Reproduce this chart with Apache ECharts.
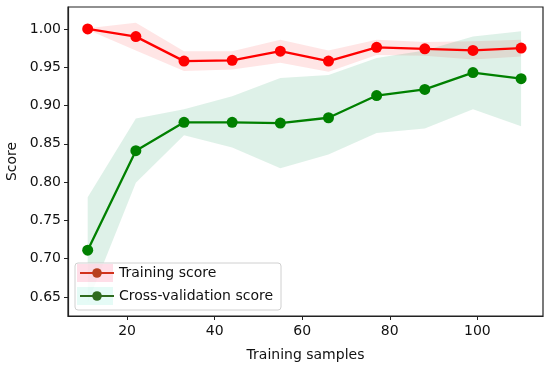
<!DOCTYPE html>
<html>
<head>
<meta charset="utf-8">
<script src="https://cdn.jsdelivr.net/npm/echarts@6/dist/echarts.min.js"></script>
<style>html,body{margin:0;padding:0;background:#fff;}#c{width:550px;height:367px;}</style>
</head>
<body>
<div id="c"></div>
<script>
const samples = [11, 22, 33, 44, 55, 66, 77, 88, 99, 110];
const trainMean  = [1.000, 0.990, 0.958, 0.959, 0.971, 0.958, 0.976, 0.974, 0.972, 0.975];
const trainUpper = [1.001, 1.008, 0.971, 0.971, 0.986, 0.972, 0.986, 0.983, 0.984, 0.986];
const trainLower = [0.999, 0.972, 0.945, 0.947, 0.956, 0.944, 0.966, 0.965, 0.960, 0.964];
const cvMean  = [0.711, 0.841, 0.878, 0.878, 0.877, 0.884, 0.913, 0.921, 0.943, 0.935];
const cvUpper = [0.780, 0.883, 0.895, 0.912, 0.936, 0.940, 0.962, 0.972, 0.990, 0.997];
const cvLower = [0.642, 0.799, 0.861, 0.845, 0.818, 0.836, 0.864, 0.870, 0.895, 0.873];
const yTicks = [0.65, 0.70, 0.75, 0.80, 0.85, 0.90, 0.95, 1.00];
const xTicks = [20, 40, 60, 80, 100];

const FONT = 'DejaVu Sans';
const pair = (ys) => samples.map((x, i) => [x, ys[i]]);

function band(name, lower, upper, color) {
  return {
    type: 'custom', name: name, silent: true, z: 1, clip: true,
    data: pair(upper),
    renderItem: function (params, api) {
      if (params.dataIndex !== 0) return null;
      const top = upper.map((u, i) => api.coord([samples[i], u]));
      const bot = lower.map((l, i) => api.coord([samples[i], l])).reverse();
      return { type: 'polygon', shape: { points: top.concat(bot) }, style: { fill: color } };
    }
  };
}

const chart = echarts.init(document.getElementById('c'), null, { renderer: 'canvas' });
chart.setOption({
  animation: false,
  backgroundColor: '#fff',
  textStyle: { fontFamily: FONT },
  grid: { left: 68, right: 7, top: 7, bottom: 51, outerBoundsMode: 'none', containLabel: false,
    show: true, borderColor: '#222', borderWidth: 1.2, backgroundColor: 'transparent' },
  xAxis: {
    type: 'value', min: 6.5, max: 115,
    name: 'Training samples', nameLocation: 'middle', nameGap: 32,
    nameTextStyle: { fontFamily: FONT, fontSize: 14, color: '#111' },
    axisLine: { show: true, lineStyle: { color: '#222', width: 1.2 } },
    axisTick: { show: true, length: 4, lineStyle: { color: '#222' }, customValues: xTicks },
    axisLabel: { fontFamily: FONT, fontSize: 14, color: '#111', margin: 8, customValues: xTicks },
    splitLine: { show: false }
  },
  yAxis: {
    type: 'value', min: 0.625, max: 1.0287,
    name: 'Score', nameLocation: 'middle', nameGap: 49, nameRotate: 90,
    nameTextStyle: { fontFamily: FONT, fontSize: 14, color: '#111' },
    axisLine: { show: true, lineStyle: { color: '#222', width: 1.2 } },
    axisTick: { show: true, length: 4, lineStyle: { color: '#222' }, customValues: yTicks },
    axisLabel: { fontFamily: FONT, fontSize: 14, color: '#111', margin: 7, customValues: yTicks,
      formatter: v => v.toFixed(2) },
    splitLine: { show: false }
  },
  legend: {
    orient: 'vertical', left: 79, top: 266, itemWidth: 34, itemHeight: 12, itemGap: 9,
    padding: 0, backgroundColor: 'transparent',
    textStyle: { fontFamily: FONT, fontSize: 14, color: '#111' },
    data: [
      { name: 'Training score', itemStyle: { color: '#b8401e' }, lineStyle: { color: '#d2321c', width: 2 } },
      { name: 'Cross-validation score', itemStyle: { color: '#2f6b1e' }, lineStyle: { color: '#2f6b1e', width: 2 } }
    ]
  },
  graphic: [
    { type: 'rect', shape: { x: 75, y: 263, width: 206, height: 47, r: 3 },
      style: { fill: 'rgba(255,255,255,0.85)', stroke: '#d0d0d0', lineWidth: 1 }, z: 3 },
    { type: 'rect', shape: { x: 77, y: 264, width: 36, height: 18 }, style: { fill: 'rgba(255,0,80,0.13)' }, z: 3 },
    { type: 'rect', shape: { x: 77, y: 287, width: 36, height: 18 }, style: { fill: 'rgba(0,220,170,0.10)' }, z: 3 }
  ],
  series: [
    band('train band', trainLower, trainUpper, 'rgba(255,40,40,0.12)'),
    band('cv band', cvLower, cvUpper, 'rgba(0,150,80,0.13)'),
    { type: 'line', name: 'Training score', data: pair(trainMean), symbol: 'circle', symbolSize: 11,
      itemStyle: { color: '#ff0000' }, lineStyle: { color: '#ff0000', width: 2.3 }, z: 5 },
    { type: 'line', name: 'Cross-validation score', data: pair(cvMean), symbol: 'circle', symbolSize: 11,
      itemStyle: { color: '#008000' }, lineStyle: { color: '#008000', width: 2.3 }, z: 5 }
  ]
});
</script>
</body>
</html>
